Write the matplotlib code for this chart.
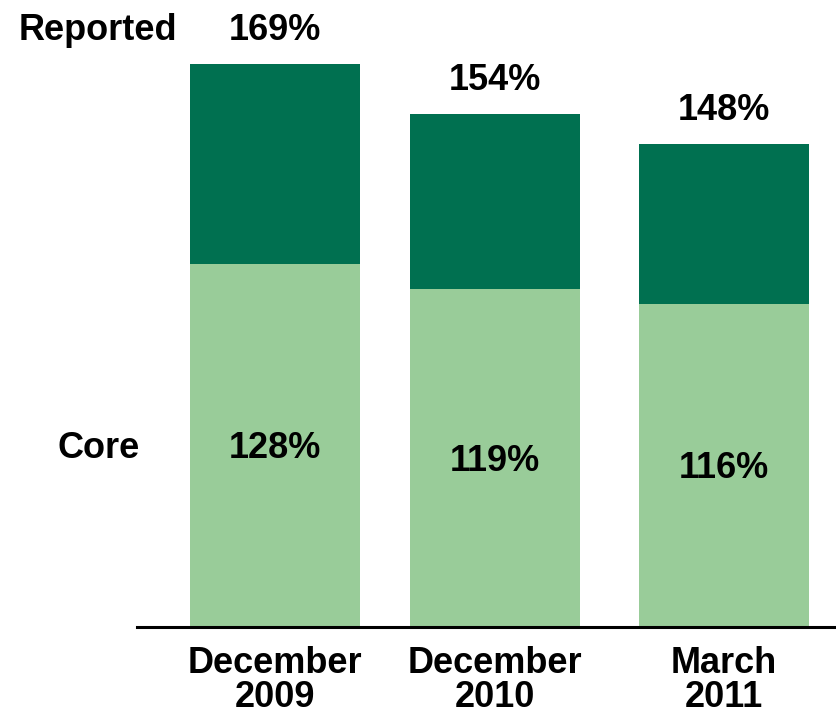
import matplotlib.pyplot as plt

plt.rcParams['font.family'] = ['Liberation Sans', 'DejaVu Sans']
plt.rcParams['font.weight'] = 'bold'

periods = ["December\n2009", "December\n2010", "March\n2011"]
reported_labels = ["169%", "154%", "148%"]
core_labels = ["128%", "119%", "116%"]
# drawn heights (the chart is not drawn to scale)
reported_height = [169, 154, 145]
core_height = [109, 101.5, 97]

dark = "#007050"
light = "#99cc99"

fig = plt.figure(figsize=(8.36, 7.14), dpi=100)
ax = fig.add_axes([137 / 836, 87 / 714, 699 / 836, 627 / 714])

pos = [0, 1, 2.04]
w = 0.773
ax.bar(pos, core_height, width=w, color=light)
ax.bar(pos, [t - c for t, c in zip(reported_height, core_height)],
       bottom=core_height, width=w, color=dark)

for x, t, c, tl, cl in zip(pos, reported_height, core_height, reported_labels, core_labels):
    ax.annotate(tl, (x, t), xytext=(0, 24), textcoords="offset points",
                ha="center", va="center", fontsize=26, fontweight="bold")
    ax.annotate(cl, (x, c / 2), xytext=(0, -2.5), textcoords="offset points",
                ha="center", va="center", fontsize=26, fontweight="bold")

ax.set_xlim(-0.627, 2.55)
ax.set_ylim(0, 188.1)
ax.set_xticks(pos)
ax.set_xticklabels(periods, fontsize=26, fontweight="bold", linespacing=0.95)
ax.tick_params(axis="x", length=0, pad=14)
ax.set_yticks([])
for s in ["top", "right", "left"]:
    ax.spines[s].set_visible(False)
ax.spines["bottom"].set_linewidth(2.2)

fig.text(177 / 836, 1 - 30 / 714, "Reported", ha="right", va="center", fontsize=26, fontweight="bold")
fig.text(140 / 836, 1 - 448 / 714, "Core", ha="right", va="center", fontsize=26, fontweight="bold")

plt.savefig("out.png", dpi=100)
